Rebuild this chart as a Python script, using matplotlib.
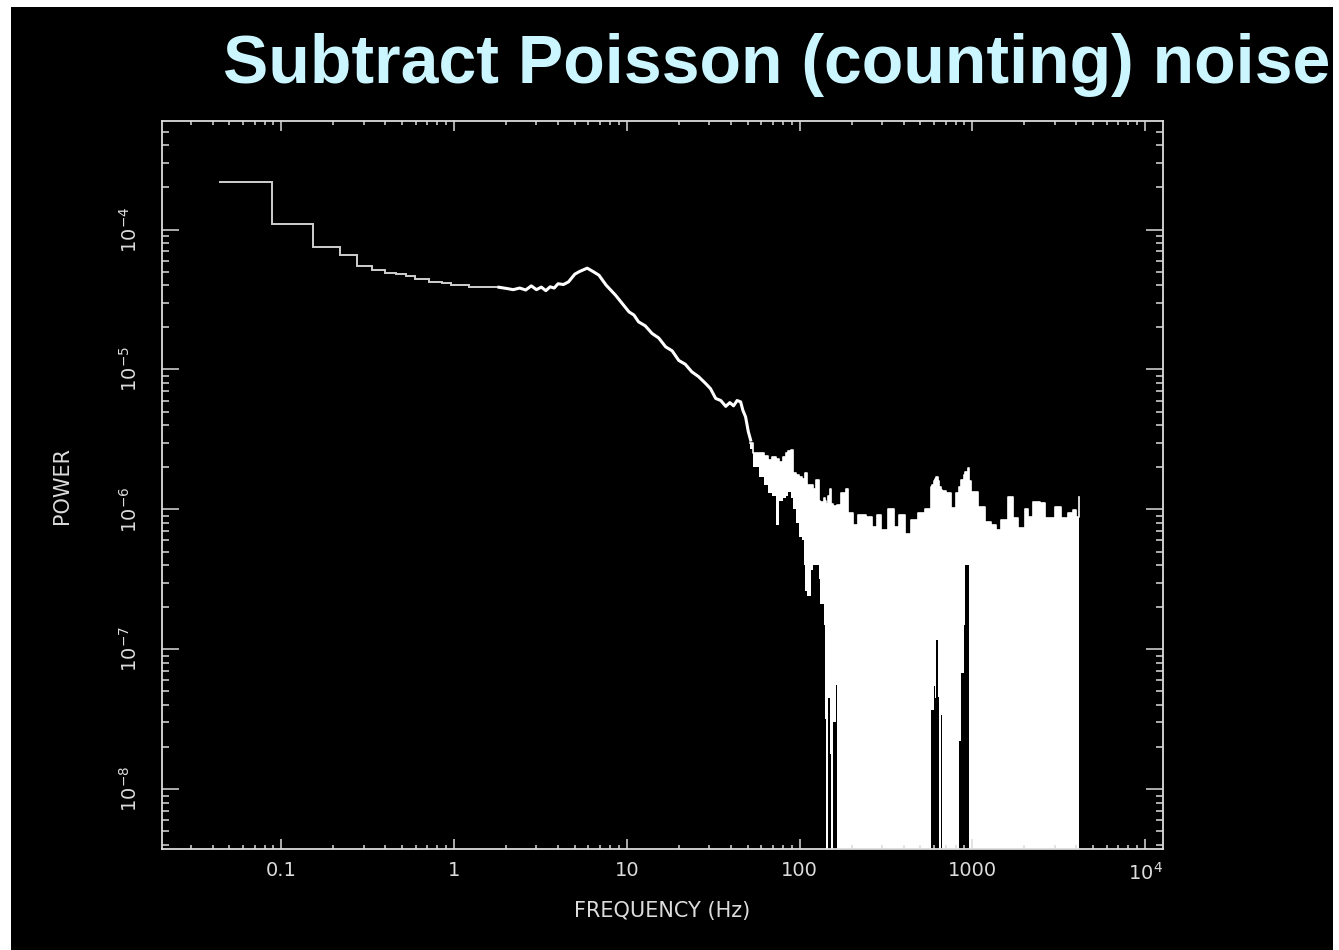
import matplotlib.pyplot as plt
from matplotlib.patches import Rectangle

# low-frequency bins (stepped part of the power spectrum)
step_edges = [0.0434, 0.0879, 0.153, 0.219, 0.276, 0.334, 0.40, 0.46, 0.526,
              0.593, 0.717, 0.85, 0.957, 1.22, 1.82]
step_power = [2.20e-4, 1.09e-4, 7.51e-5, 6.59e-5, 5.50e-5, 5.12e-5, 4.93e-5,
              4.85e-5, 4.67e-5, 4.40e-5, 4.23e-5, 4.15e-5, 4.02e-5, 3.87e-5]

# 1.8 - 52 Hz: single thin trace (QPO bump near 6 Hz)
line_freq = [1.82, 2.0, 2.2, 2.4, 2.6, 2.8, 3.0, 3.2, 3.4, 3.6, 3.8, 4.0, 4.3,
             4.6, 5.0, 5.3, 5.9, 6.4, 6.9, 7.6, 8.6, 10.3, 11.0, 11.7, 12.8,
             14.0, 15.3, 16.8, 18.3, 20.0, 21.8, 23.8, 26.0, 28.6, 30.5, 32.7,
             35.0, 37.4, 39.5, 41.5, 43.5, 45.6, 47.0, 48.7, 50.5, 52.1]
line_power = [3.87e-5, 3.80e-5, 3.72e-5, 3.82e-5, 3.70e-5, 3.96e-5, 3.72e-5,
              3.88e-5, 3.66e-5, 3.90e-5, 3.82e-5, 4.10e-5, 4.05e-5, 4.23e-5,
              4.80e-5, 5.00e-5, 5.30e-5, 5.00e-5, 4.72e-5, 4.00e-5, 3.40e-5,
              2.58e-5, 2.45e-5, 2.19e-5, 2.05e-5, 1.81e-5, 1.68e-5, 1.45e-5,
              1.36e-5, 1.16e-5, 1.09e-5, 9.62e-6, 8.90e-6, 7.94e-6, 7.30e-6,
              6.21e-6, 6.00e-6, 5.45e-6, 5.80e-6, 5.50e-6, 6.00e-6, 5.87e-6,
              5.10e-6, 4.59e-6, 3.60e-6, 3.13e-6]

# 52 Hz - 4.2 kHz: noisy band, upper and lower envelope of the powers
# (negative powers after the Poisson level is subtracted fall off the log axis)
band_freq = [52, 54, 58, 62, 66, 69, 73, 76, 80, 83, 86, 89, 92, 96, 99, 103,
             106, 108, 110, 116, 120, 124, 129, 132, 138, 141, 143, 146, 150,
             153, 157, 162, 165, 173, 185, 192, 205, 219, 241, 261, 279, 298,
             323, 350, 374, 410, 444, 488, 535, 579, 588, 600, 612, 619, 630,
             645, 660, 671, 708, 757, 809, 841, 863, 890, 911, 948, 961, 986,
             1084, 1189, 1288, 1377, 1472, 1615, 1726, 1845, 2023, 2108, 2253,
             2472, 2643, 3020, 3266, 3589, 3837, 3990, 4152]
band_upper = [3.0e-6, 2.51e-6, 2.51e-6, 2.40e-6, 2.25e-6, 2.38e-6, 2.30e-6,
              2.18e-6, 2.35e-6, 2.51e-6, 2.60e-6, 2.65e-6, 1.81e-6, 1.75e-6,
              1.71e-6, 1.65e-6, 1.55e-6, 1.81e-6, 1.50e-6, 1.49e-6, 1.40e-6,
              1.62e-6, 1.15e-6, 1.13e-6, 1.20e-6, 1.15e-6, 1.10e-6, 1.25e-6,
              1.39e-6, 1.10e-6, 1.05e-6, 1.04e-6, 1.08e-6, 1.30e-6, 1.39e-6,
              9.4e-7, 7.7e-7, 9.1e-7, 8.85e-7, 7.5e-7, 9.1e-7, 7.1e-7, 1.0e-6,
              7.5e-7, 9.1e-7, 6.7e-7, 8.4e-7, 9.4e-7, 1.0e-6, 1.45e-6, 1.49e-6,
              1.6e-6, 1.65e-6, 1.70e-6, 1.6e-6, 1.45e-6, 1.37e-6, 1.35e-6,
              1.31e-6, 1.02e-6, 1.31e-6, 1.45e-6, 1.62e-6, 1.75e-6, 1.85e-6,
              1.97e-6, 1.6e-6, 1.33e-6, 1.04e-6, 8.1e-7, 7.7e-7, 7.1e-7,
              8.4e-7, 1.22e-6, 8.7e-7, 7.35e-7, 1.0e-6, 8.85e-7, 1.13e-6,
              1.11e-6, 8.7e-7, 1.04e-6, 8.7e-7, 9.4e-7, 9.9e-7, 8.85e-7, 1.22e-6]
band_lower = [2.7e-6, 2.0e-6, 1.7e-6, 1.5e-6, 1.3e-6, 1.25e-6, 7.7e-7, 1.15e-6,
              1.2e-6, 1.25e-6, 1.33e-6, 1.2e-6, 1.0e-6, 8.0e-7, 6.4e-7, 6.0e-7,
              4.0e-7, 2.6e-7, 2.4e-7, 3.7e-7, 4.0e-7, 4.0e-7, 3.2e-7, 2.1e-7,
              1.5e-7, 3.2e-8, -4e-7, 4.5e-8, 1.8e-8, -4e-7, 3.0e-8, 5.6e-8,
              -4e-7, -4e-7, -4e-7, -4e-7, -4e-7, -4e-7, -4e-7, -4e-7, -4e-7,
              -4e-7, -4e-7, -4e-7, -4e-7, -4e-7, -4e-7, -4e-7, -4e-7, 3.7e-8,
              3.7e-8, 5.5e-8, 4.5e-8, 1.16e-7, 4.6e-8, -4e-7, 3.4e-8, -4e-7,
              -4e-7, -4e-7, -4e-7, 2.2e-8, 6.8e-8, 1.5e-7, 4.0e-7, 4.0e-7,
              -4e-7, -4e-7, -4e-7, -4e-7, -4e-7, -4e-7, -4e-7, -4e-7, -4e-7,
              -4e-7, -4e-7, -4e-7, -4e-7, -4e-7, -4e-7, -4e-7, -4e-7, -4e-7,
              -4e-7, -4e-7, -4e-7]

x_ticks = [0.1, 1, 10, 100, 1000, 10000]
x_ticklabels = ['0.1', '1', '10', '100', '1000', r'$10^4$']
y_ticks = [1e-8, 1e-7, 1e-6, 1e-5, 1e-4]
y_ticklabels = [r'$10^{-8}$', r'$10^{-7}$', r'$10^{-6}$', r'$10^{-5}$', r'$10^{-4}$']

plt.rcParams['mathtext.default'] = 'regular'
fg = '#dcdcdc'

fig = plt.figure(figsize=(13.39, 9.5), dpi=100, facecolor='black')
ax = fig.add_axes([162 / 1339, 1 - 849 / 950, 1001 / 1339, 728 / 950])
ax.set_facecolor('black')
ax.set_xscale('log')
ax.set_yscale('log')

ax.stairs(step_power, step_edges, color='#cfcfcf', lw=1.4, baseline=None)
ax.plot(line_freq, line_power, color='white', lw=2.2)
ax.fill_between(band_freq, band_lower, band_upper, step='post',
                color='white', lw=0)
ax.step(band_freq, band_upper, where='post', color='white', lw=1.2)

ax.set_xlim(0.0204, 12700)
ax.set_ylim(3.74e-9, 5.97e-4)

for s in ax.spines.values():
    s.set_color(fg)
    s.set_linewidth(1.3)

ax.set_xticks(x_ticks, x_ticklabels)
ax.set_yticks(y_ticks, y_ticklabels)
ax.tick_params(which='both', direction='in', top=True, right=True, colors=fg,
               width=1.1)
ax.tick_params(axis='x', which='major', length=7.2, pad=9, labelsize=14)
ax.tick_params(axis='x', which='minor', length=3.2)
ax.tick_params(axis='y', which='major', length=12, pad=15, labelsize=14)
ax.tick_params(axis='y', which='minor', length=5)
for lab in ax.get_yticklabels():
    lab.set_rotation(90)
    lab.set_va('center')

ax.set_xlabel('FREQUENCY (Hz)', color=fg, fontsize=15, labelpad=13)
ax.set_ylabel('POWER', color=fg, fontsize=15, labelpad=34)

fig.text(223 / 1339, 1 - 83 / 950, 'Subtract Poisson (counting) noise',
         color='#ccf6ff', fontsize=49, fontweight='bold',
         family='Liberation Sans', ha='left', va='baseline')

# white slide margins at top, left and right
fig.add_artist(Rectangle((0, 1 - 7 / 950), 1, 7 / 950, transform=fig.transFigure,
                         color='white', lw=0))
fig.add_artist(Rectangle((0, 0), 11 / 1339, 1, transform=fig.transFigure,
                         color='white', lw=0))
fig.add_artist(Rectangle((1 - 6 / 1339, 0), 6 / 1339, 1, transform=fig.transFigure,
                         color='white', lw=0))

fig.savefig('out.png', dpi=100, facecolor='black')
